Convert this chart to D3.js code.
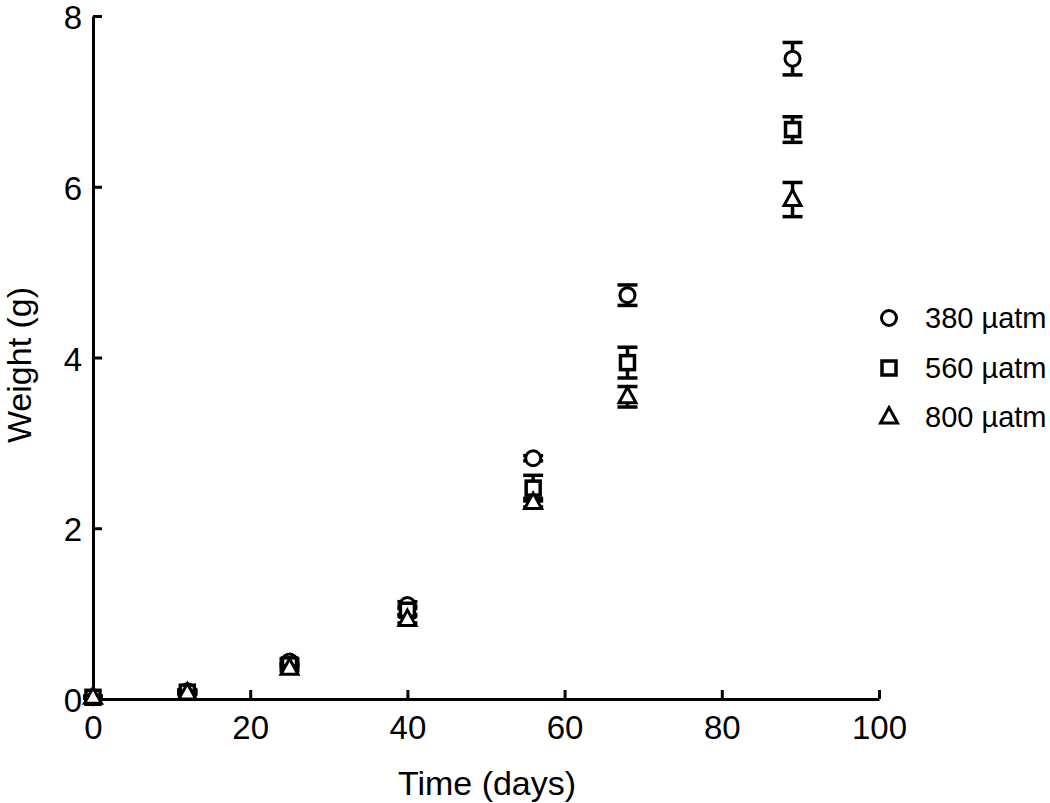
<!DOCTYPE html>
<html><head><meta charset="utf-8">
<script src="https://cdn.jsdelivr.net/npm/d3@7"></script>
<style>body{margin:0;background:#fff}svg{display:block}text{font-family:"Liberation Sans",Arial,sans-serif;fill:#000}</style>
</head><body>
<svg id="c" width="1050" height="803"></svg>
<script>
const days = [0, 12, 25, 40, 56, 68, 89];
const seriesNames = ["380 µatm", "560 µatm", "800 µatm"];
const weight380 = [0.02, 0.09, 0.44, 1.10, 2.82, 4.73, 7.50];
const err380    = [0.01, 0.02, 0.03, 0.04, 0.03, 0.12, 0.19];
const weight560 = [0.02, 0.08, 0.40, 1.04, 2.47, 3.94, 6.67];
const err560    = [0.01, 0.02, 0.03, 0.05, 0.15, 0.18, 0.15];
const weight800 = [0.02, 0.07, 0.36, 0.93, 2.30, 3.54, 5.85];
const err800    = [0.01, 0.02, 0.03, 0.04, 0.05, 0.12, 0.20];
const xTicks = [0, 20, 40, 60, 80, 100];
const yTicks = [0, 2, 4, 6, 8];

const svg = d3.select("#c");
const x = d3.scaleLinear().domain([0, 100]).range([93, 879]);
const y = d3.scaleLinear().domain([0, 8]).range([699, 16]);

// axes
const xa = svg.append("g").attr("transform", "translate(0,699)")
  .call(d3.axisBottom(x).tickValues(xTicks).tickSizeInner(-9).tickSizeOuter(0).tickPadding(17));
const ya = svg.append("g").attr("transform", "translate(93,0)")
  .call(d3.axisLeft(y).tickValues(yTicks).tickSizeInner(-9).tickSizeOuter(0).tickPadding(11));
[xa, ya].forEach(a => {
  a.selectAll("path.domain").attr("stroke", "#000").attr("stroke-width", 3);
  a.selectAll(".tick line").attr("stroke", "#000").attr("stroke-width", 3);
  a.selectAll(".tick text").attr("font-size", 33).attr("font-family", "Liberation Sans, Arial, sans-serif").attr("fill", "#000");
});
ya.selectAll(".tick text").attr("dy", "0.38em");
xa.selectAll(".tick text").attr("dy", "0.71em");

svg.append("text").attr("x", 487).attr("y", 795).attr("text-anchor", "middle").attr("font-size", 34).text("Time (days)");
svg.append("text").attr("transform", "translate(31,365) rotate(-90)").attr("text-anchor", "middle").attr("font-size", 34).text("Weight (g)");

const series = [
  {name: seriesNames[0], vals: weight380, errs: err380, shape: "circle"},
  {name: seriesNames[1], vals: weight560, errs: err560, shape: "square"},
  {name: seriesNames[2], vals: weight800, errs: err800, shape: "triangle"}
];

function drawMarker(g, shape, cx, cy) {
  if (shape === "circle") {
    g.append("circle").attr("cx", cx).attr("cy", cy).attr("r", 7.5)
      .attr("fill", "#fff").attr("stroke", "#000").attr("stroke-width", 3);
  } else if (shape === "square") {
    g.append("rect").attr("x", cx - 7).attr("y", cy - 7).attr("width", 14).attr("height", 14)
      .attr("fill", "#fff").attr("stroke", "#000").attr("stroke-width", 3.5);
  } else {
    const s = 8.5;
    g.append("path").attr("d", `M${cx},${cy - s - 1}L${cx + s},${cy + s * 0.7}L${cx - s},${cy + s * 0.7}Z`)
      .attr("fill", "#fff").attr("stroke", "#000").attr("stroke-width", 3).attr("stroke-linejoin", "miter");
  }
}

series.forEach(s => {
  const g = svg.append("g");
  days.forEach((d, i) => {
    const cx = x(d), yt = y(s.vals[i] + s.errs[i]), yb = y(s.vals[i] - s.errs[i]);
    const eg = g.append("g").attr("stroke", "#000").attr("stroke-width", 3.5);
    eg.append("line").attr("x1", cx).attr("x2", cx).attr("y1", yt).attr("y2", yb);
    eg.append("line").attr("x1", cx - 10).attr("x2", cx + 10).attr("y1", yt).attr("y2", yt);
    eg.append("line").attr("x1", cx - 10).attr("x2", cx + 10).attr("y1", yb).attr("y2", yb);
    drawMarker(g, s.shape, cx, y(s.vals[i]));
  });
});

// legend
const legY = [318, 368, 417];
series.forEach((s, i) => {
  const g = svg.append("g");
  drawMarker(g, s.shape, 889, legY[i]);
  g.append("text").attr("x", 925).attr("y", legY[i]).attr("dy", "0.36em").attr("font-size", 29).text(s.name);
});
</script>
</body></html>
